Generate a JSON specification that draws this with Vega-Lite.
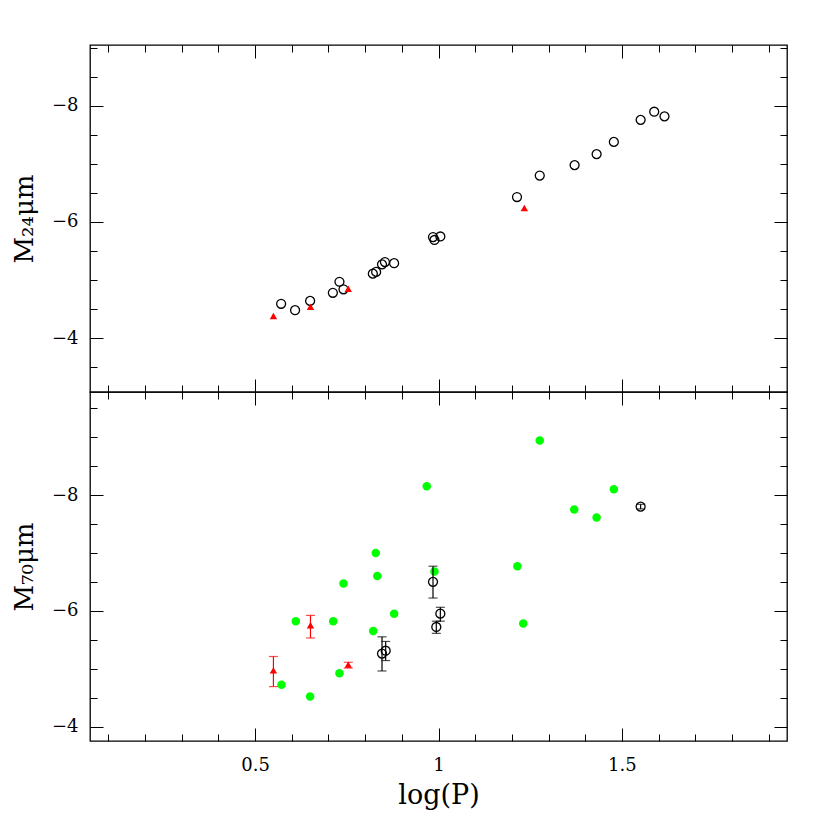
{
  "$schema": "https://vega.github.io/schema/vega-lite/v6.json",
  "padding": {"left": 10, "top": 43, "right": 40, "bottom": 10},
  "autosize": {"type": "pad"},
  "bounds": "flush",
  "spacing": 0,
  "config": {
    "font": "DejaVu Serif",
    "view": {"stroke": "black", "strokeWidth": 1.3},
    "axis": {
      "domain": false, "grid": false, "tickColor": "black", "tickWidth": 1,
      "labelFont": "DejaVu Serif", "labelFontSize": 18, "labelColor": "black",
      "titleFont": "DejaVu Serif", "titleFontWeight": "normal", "titleFontSize": 26, "titleColor": "black"
    }
  },
  "datasets": {
    "top_circ": [
      {"x": 0.571, "y": -4.59}, {"x": 0.609, "y": -4.48}, {"x": 0.650, "y": -4.64}, {"x": 0.712, "y": -4.78},
      {"x": 0.730, "y": -4.97}, {"x": 0.741, "y": -4.84}, {"x": 0.821, "y": -5.11}, {"x": 0.830, "y": -5.14},
      {"x": 0.846, "y": -5.27}, {"x": 0.854, "y": -5.31}, {"x": 0.879, "y": -5.29}, {"x": 0.985, "y": -5.74},
      {"x": 0.989, "y": -5.69}, {"x": 1.005, "y": -5.75}, {"x": 1.214, "y": -6.43}, {"x": 1.276, "y": -6.80},
      {"x": 1.371, "y": -6.98}, {"x": 1.431, "y": -7.17}, {"x": 1.478, "y": -7.38}, {"x": 1.551, "y": -7.76},
      {"x": 1.588, "y": -7.90}, {"x": 1.616, "y": -7.82}
    ],
    "top_tri": [
      {"x": 0.550, "y": -4.38}, {"x": 0.651, "y": -4.54}, {"x": 0.754, "y": -4.85}, {"x": 1.234, "y": -6.24}
    ],
    "bot_green": [
      {"x": 0.968, "y": -8.15}, {"x": 0.829, "y": -7.00}, {"x": 0.833, "y": -6.60}, {"x": 0.741, "y": -6.47},
      {"x": 0.989, "y": -6.68}, {"x": 0.879, "y": -5.95}, {"x": 0.611, "y": -5.82}, {"x": 0.713, "y": -5.82},
      {"x": 0.822, "y": -5.65}, {"x": 0.730, "y": -4.92}, {"x": 0.572, "y": -4.72}, {"x": 0.650, "y": -4.52},
      {"x": 1.276, "y": -8.94}, {"x": 1.478, "y": -8.10}, {"x": 1.370, "y": -7.75}, {"x": 1.431, "y": -7.61},
      {"x": 1.215, "y": -6.77}, {"x": 1.231, "y": -5.78}
    ],
    "bot_circ": [
      {"x": 0.985, "y": -6.50, "lo": -6.77, "hi": -6.22},
      {"x": 1.005, "y": -5.95, "lo": -6.06, "hi": -5.82},
      {"x": 0.994, "y": -5.72, "lo": -5.82, "hi": -5.61},
      {"x": 0.846, "y": -5.26, "lo": -5.55, "hi": -4.96},
      {"x": 0.856, "y": -5.31, "lo": -5.47, "hi": -5.14},
      {"x": 1.551, "y": -7.80, "lo": -7.84, "hi": -7.76}
    ],
    "bot_tri": [
      {"x": 0.550, "y": -4.97, "lo": -5.21, "hi": -4.69},
      {"x": 0.651, "y": -5.75, "lo": -5.92, "hi": -5.53},
      {"x": 0.754, "y": -5.07, "lo": -5.11, "hi": -5.01}
    ]
  },
  "vconcat": [
    {
      "width": 697,
      "height": 347,
      "layer": [
        {
          "data": {"name": "top_circ"},
          "mark": {"type": "point", "shape": "circle", "filled": false, "color": "black", "strokeWidth": 1.3, "size": 80, "opacity": 1},
          "encoding": {
            "x": {"field": "x", "type": "quantitative",
              "scale": {"domain": [0.05, 1.95], "nice": false, "zero": false},
              "axis": {"orient": "bottom", "labels": false, "title": null,
                "values": [0.1,0.2,0.3,0.4,0.5,0.6,0.7,0.8,0.9,1.0,1.1,1.2,1.3,1.4,1.5,1.6,1.7,1.8,1.9],
                "tickSize": {"condition": {"test": "abs(datum.value*2 - round(datum.value*2)) < 0.001", "value": -13}, "value": -7}}},
            "y": {"field": "y", "type": "quantitative",
              "scale": {"domain": [-9.05, -3.07], "reverse": true, "nice": false, "zero": false},
              "axis": {"orient": "left", "title": "M₂₄μm", "titlePadding": 14, "labelPadding": 25,
                "values": [-9,-8.5,-8,-7.5,-7,-6.5,-6,-5.5,-5,-4.5,-4,-3.5],
                "labelExpr": "datum.value % 2 === 0 ? format(datum.value, 'd') : ''",
                "tickSize": {"condition": {"test": "datum.value % 2 === 0", "value": -13}, "value": -7}}}
          }
        },
        {
          "data": {"name": "top_tri"},
          "mark": {"type": "point", "shape": "triangle-up", "filled": true, "color": "#ff0000", "size": 55, "opacity": 1},
          "encoding": {
            "x": {"field": "x", "type": "quantitative",
              "scale": {"domain": [0.05, 1.95], "nice": false, "zero": false},
              "axis": {"orient": "top", "labels": false, "title": null,
                "values": [0.1,0.2,0.3,0.4,0.5,0.6,0.7,0.8,0.9,1.0,1.1,1.2,1.3,1.4,1.5,1.6,1.7,1.8,1.9],
                "tickSize": {"condition": {"test": "abs(datum.value*2 - round(datum.value*2)) < 0.001", "value": -13}, "value": -7}}},
            "y": {"field": "y", "type": "quantitative",
              "scale": {"domain": [-9.05, -3.07], "reverse": true, "nice": false, "zero": false},
              "axis": {"orient": "right", "labels": false, "title": null,
                "values": [-9,-8.5,-8,-7.5,-7,-6.5,-6,-5.5,-5,-4.5,-4,-3.5],
                "tickSize": {"condition": {"test": "datum.value % 2 === 0", "value": -13}, "value": -7}}}
          }
        }
      ],
      "resolve": {"axis": {"x": "independent", "y": "independent"}}
    },
    {
      "width": 697,
      "height": 349,
      "layer": [
        {
          "data": {"name": "bot_green"},
          "mark": {"type": "point", "shape": "circle", "filled": true, "color": "#00ff00", "size": 72, "opacity": 1},
          "encoding": {
            "x": {"field": "x", "type": "quantitative",
              "scale": {"domain": [0.05, 1.95], "nice": false, "zero": false},
              "axis": {"orient": "bottom", "title": "log(P)", "titlePadding": 8, "labelPadding": 28, "titleFontSize": 27,
                "values": [0.1,0.2,0.3,0.4,0.5,0.6,0.7,0.8,0.9,1.0,1.1,1.2,1.3,1.4,1.5,1.6,1.7,1.8,1.9],
                "labelExpr": "abs(datum.value*2 - round(datum.value*2)) < 0.001 ? format(datum.value, '~g') : ''",
                "tickSize": {"condition": {"test": "abs(datum.value*2 - round(datum.value*2)) < 0.001", "value": -13}, "value": -7}}},
            "y": {"field": "y", "type": "quantitative",
              "scale": {"domain": [-9.78, -3.75], "reverse": true, "nice": false, "zero": false},
              "axis": {"orient": "left", "title": "M₇₀μm", "titlePadding": 14, "labelPadding": 25,
                "values": [-9.5,-9,-8.5,-8,-7.5,-7,-6.5,-6,-5.5,-5,-4.5,-4],
                "labelExpr": "datum.value % 2 === 0 ? format(datum.value, 'd') : ''",
                "tickSize": {"condition": {"test": "datum.value % 2 === 0", "value": -13}, "value": -7}}}
          }
        },
        {
          "data": {"name": "bot_circ"},
          "mark": {"type": "rule", "color": "black", "strokeWidth": 1.2},
          "encoding": {
            "x": {"field": "x", "type": "quantitative", "axis": null},
            "y": {"field": "lo", "type": "quantitative", "axis": null},
            "y2": {"field": "hi"}
          }
        },
        {
          "data": {"name": "bot_circ"},
          "mark": {"type": "tick", "orient": "horizontal", "color": "black", "size": 9, "thickness": 1.2},
          "encoding": {
            "x": {"field": "x", "type": "quantitative", "axis": null},
            "y": {"field": "lo", "type": "quantitative", "axis": null}
          }
        },
        {
          "data": {"name": "bot_circ"},
          "mark": {"type": "tick", "orient": "horizontal", "color": "black", "size": 9, "thickness": 1.2},
          "encoding": {
            "x": {"field": "x", "type": "quantitative", "axis": null},
            "y": {"field": "hi", "type": "quantitative", "axis": null}
          }
        },
        {
          "data": {"name": "bot_circ"},
          "mark": {"type": "point", "shape": "circle", "filled": false, "color": "black", "strokeWidth": 1.3, "size": 80, "opacity": 1},
          "encoding": {
            "x": {"field": "x", "type": "quantitative", "axis": null},
            "y": {"field": "y", "type": "quantitative", "axis": null}
          }
        },
        {
          "data": {"name": "bot_tri"},
          "mark": {"type": "rule", "color": "#ff0000", "strokeWidth": 1.2},
          "encoding": {
            "x": {"field": "x", "type": "quantitative", "axis": null},
            "y": {"field": "lo", "type": "quantitative", "axis": null},
            "y2": {"field": "hi"}
          }
        },
        {
          "data": {"name": "bot_tri"},
          "mark": {"type": "tick", "orient": "horizontal", "color": "#ff0000", "size": 9, "thickness": 1.2},
          "encoding": {
            "x": {"field": "x", "type": "quantitative", "axis": null},
            "y": {"field": "lo", "type": "quantitative", "axis": null}
          }
        },
        {
          "data": {"name": "bot_tri"},
          "mark": {"type": "tick", "orient": "horizontal", "color": "#ff0000", "size": 9, "thickness": 1.2},
          "encoding": {
            "x": {"field": "x", "type": "quantitative", "axis": null},
            "y": {"field": "hi", "type": "quantitative", "axis": null}
          }
        },
        {
          "data": {"name": "bot_tri"},
          "mark": {"type": "point", "shape": "triangle-up", "filled": true, "color": "#ff0000", "size": 55, "opacity": 1},
          "encoding": {
            "x": {"field": "x", "type": "quantitative",
              "scale": {"domain": [0.05, 1.95], "nice": false, "zero": false},
              "axis": {"orient": "top", "labels": false, "title": null,
                "values": [0.1,0.2,0.3,0.4,0.5,0.6,0.7,0.8,0.9,1.0,1.1,1.2,1.3,1.4,1.5,1.6,1.7,1.8,1.9],
                "tickSize": {"condition": {"test": "abs(datum.value*2 - round(datum.value*2)) < 0.001", "value": -13}, "value": -7}}},
            "y": {"field": "y", "type": "quantitative",
              "scale": {"domain": [-9.78, -3.75], "reverse": true, "nice": false, "zero": false},
              "axis": {"orient": "right", "labels": false, "title": null,
                "values": [-9.5,-9,-8.5,-8,-7.5,-7,-6.5,-6,-5.5,-5,-4.5,-4],
                "tickSize": {"condition": {"test": "datum.value % 2 === 0", "value": -13}, "value": -7}}}
          }
        }
      ],
      "resolve": {"axis": {"x": "independent", "y": "independent"}}
    }
  ]
}
